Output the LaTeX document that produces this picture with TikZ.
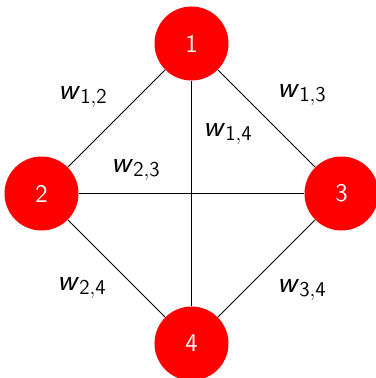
\documentclass[tikz,border=0pt]{standalone}
\usepackage{amsmath,amssymb}
\usepackage{xcolor}

\newcommand{\wt}[1]{$\textsf{\textit{w}}_{\mathsf{#1}}$}

\begin{document}
\begin{tikzpicture}[baseline=(current bounding box.center)]
\useasboundingbox (-3.83,-3.69) rectangle (3.67,3.87);
\tikzstyle{vertex}=[circle, fill=red, text=white, font=\Large\sffamily,
                    inner sep=2pt, minimum width=1.48cm]
\tikzstyle{weight}=[font=\LARGE, inner sep=1pt]
\node[vertex] (1) at (0,3) {1};
\node[vertex] (2) at (-3,0) {2};
\node[vertex] (3) at (3,0) {3};
\node[vertex] (4) at (0,-3) {4};
% edge weights
\node[weight] (w12) at (-2.17,1.93) {\wt{1,2}};
\node[weight] (w13) at (2.21,1.97) {\wt{1,3}};
\node[weight] (w14) at (0.73,1.19) {\wt{1,4}};
\node[weight] (w23) at (-1.11,0.47) {\wt{2,3}};
\node[weight] (w24) at (-2.19,-1.89) {\wt{2,4}};
\node[weight] (w34) at (2.21,-1.93) {\wt{3,4}};
% all edges straight
\draw[line width=0.6pt] (1) -- (2);
\draw[line width=0.6pt] (1) -- (3);
\draw[line width=0.6pt] (1) -- (4);
\draw[line width=0.6pt] (2) -- (3);
\draw[line width=0.6pt] (2) -- (4);
\draw[line width=0.6pt] (3) -- (4);
\end{tikzpicture}
\end{document}
